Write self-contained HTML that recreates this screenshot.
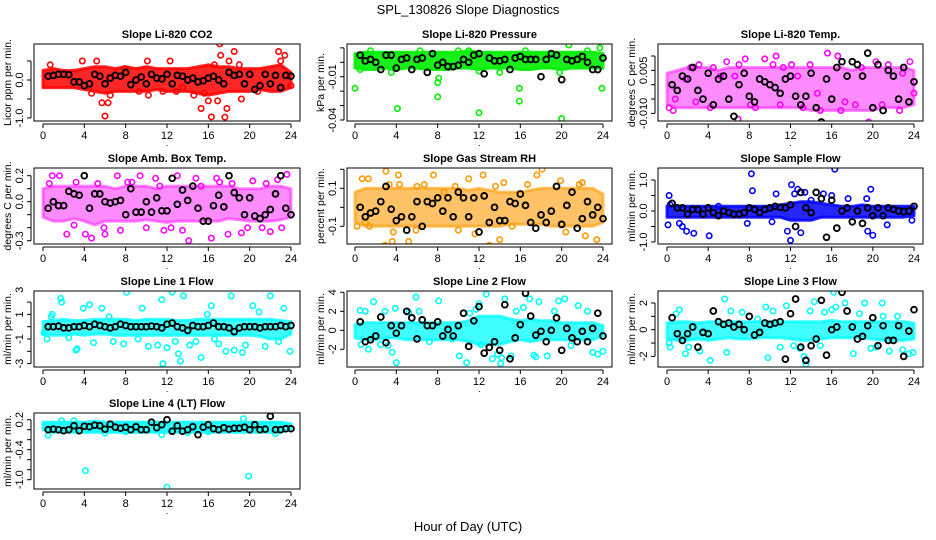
<!DOCTYPE html>
<html><head><meta charset="utf-8"><style>
html,body{margin:0;padding:0;background:#fff}
svg{display:block;font-family:"Liberation Sans",Arial,sans-serif}
</style></head><body>
<svg id="chart" width="936" height="540" viewBox="0 0 936 540" xmlns="http://www.w3.org/2000/svg">
<text x="468" y="14" text-anchor="middle" font-size="13">SPL_130826  Slope Diagnostics</text>
<text x="468" y="531" text-anchor="middle" font-size="13">Hour of Day (UTC)</text>
</svg>
<script>
const HALF=[0.5,1,1.5,2,2.5,3,3.5,4,4.5,5,5.5,6,6.5,7,7.5,8,8.5,9,9.5,10,10.5,11,11.5,12,12.5,13,13.5,14,14.5,15,15.5,16,16.5,17,17.5,18,18.5,19,19.5,20,20.5,21,21.5,22,22.5,23,23.5,24];
const HOURS=[0,1,2,3,4,5,6,7,8,9,10,11,12,13,14,15,16,17,18,19,20,21,22,23,24];
const XTICKS=[0,4,8,12,16,20,24];

const p1Lo=[-0.2,-0.2,-0.2,-0.2,-0.25,-0.3,-0.35,-0.3,-0.3,-0.3,-0.3,-0.25,-0.3,-0.3,-0.3,-0.35,-0.4,-0.35,-0.3,-0.3,-0.3,-0.25,-0.3,-0.3,-0.2];
const p1Hi=[0.25,0.3,0.25,0.25,0.3,0.35,0.35,0.3,0.35,0.3,0.35,0.3,0.3,0.3,0.3,0.35,0.4,0.35,0.35,0.3,0.3,0.3,0.35,0.4,0.2];
const p1CH=[0.7,3.8,5.2,5.7,6.0,6.3,6.5,4.7,7.9,10.1,10.2,12.3,13.5,14.6,15.3,15.6,16.0,16.3,16.6,16.9,17.1,17.2,17.6,17.8,18.0,18.5,19.2,22.8,23.0,23.4,24,9.3,11.6,20.8,19.0,12.9];
const p1CV=[0.4,0.5,0.5,-0.6,-0.95,-0.6,-0.4,-0.35,0.3,0.5,-0.4,0.5,-0.2,-0.4,-0.75,-0.35,-0.55,-0.97,0.4,-0.55,0.95,0.65,-0.98,-0.75,0.5,0.75,-0.5,0.75,0.5,0.65,-0.15,-0.3,-0.3,-0.3,0.4,-0.3];
const p1K=[0.1,0.12,0.15,0.15,0.14,-0.05,-0.05,-0.15,-0.1,0.15,0.1,-0.1,0.05,0.12,0.1,0.2,-0.12,0.0,0.08,-0.1,0.15,0.05,0.03,0.15,-0.1,0.12,0.1,0.0,0.05,-0.05,-0.02,0.05,0.1,0.0,-0.1,0.2,0.12,0.15,-0.1,0.15,-0.25,-0.15,0.15,-0.1,0.12,-0.2,0.12,0.1];

const p2Lo=[-0.004,-0.005,-0.005,-0.004,-0.005,-0.004,-0.004,-0.005,-0.005,-0.005,-0.004,-0.004,-0.005,-0.004,-0.004,-0.004,-0.005,-0.005,-0.004,-0.004,-0.005,-0.004,-0.004,-0.004,-0.004];
const p2Hi=[0.006,0.007,0.007,0.007,0.007,0.007,0.007,0.007,0.007,0.007,0.007,0.008,0.007,0.007,0.007,0.007,0.007,0.007,0.007,0.007,0.007,0.007,0.007,0.007,0.006];
const p2CH=[0,4.1,8,8,12,15.9,15.9,20,23.9,20.7,23.7,0.4,11,16.5,3.5,0.5,8.1,12,6.3,14,19.8,1.5,22.5,10];
const p2CV=[-0.018,-0.032,-0.024,-0.014,-0.035,-0.018,-0.027,-0.039,-0.018,0.012,0.01,0.005,0.008,0.008,-0.007,-0.005,-0.011,-0.006,0.008,-0.007,-0.007,0.008,0.008,0.008];
const p2K=[0.005,0.001,0.002,0.0,-0.005,0.005,0.005,-0.004,0.002,0.003,-0.005,0.002,0.003,-0.007,0.006,-0.002,0.0,-0.003,-0.003,-0.002,0.002,0.0,0.005,0.006,-0.008,0.003,0.001,0.001,0.002,-0.005,0.003,0.004,0.002,0.002,0.002,-0.01,0.002,0.006,0.005,-0.012,0.002,0.001,0.002,0.004,0.0,-0.005,-0.005,0.003];

const p3Lo=[-0.007,-0.008,-0.008,-0.008,-0.008,-0.008,-0.008,-0.008,-0.008,-0.008,-0.008,-0.008,-0.008,-0.008,-0.009,-0.009,-0.009,-0.009,-0.009,-0.009,-0.009,-0.008,-0.008,-0.008,-0.007];
const p3Hi=[0.004,0.005,0.006,0.006,0.006,0.005,0.006,0.006,0.006,0.006,0.006,0.006,0.006,0.006,0.006,0.006,0.006,0.006,0.005,0.006,0.006,0.006,0.006,0.006,0.005];
const p3CH=[0.2,0.6,1.8,2.3,3.1,4.5,5.2,5.8,6.9,7.6,8.1,9.5,10.3,10.6,11.3,12.1,13.2,13.9,14.6,15.6,16.6,17.3,18.3,19.6,20.3,21.5,22.6,23.6,0.8,2.8,4.2,6.6,8.6,11.0,12.7,14.9,16.9,18.9,20.9,22.9,24,7.0];
const p3CV=[-0.008,-0.009,0.002,0.006,0.007,0.006,0.003,0.008,-0.012,0.009,-0.007,0.009,0.007,0.01,0.006,0.007,-0.008,0.007,-0.003,0.011,0.01,-0.006,-0.007,-0.013,0.008,0.007,-0.009,0.008,-0.005,-0.006,-0.008,0.003,-0.008,-0.007,0.003,-0.009,-0.009,0.006,-0.007,0.004,-0.003,0.007];
const p3K=[0.0,-0.002,0.003,0.002,0.006,-0.002,-0.005,0.004,-0.007,0.002,0.003,-0.005,-0.011,0.0,0.004,-0.004,-0.006,0.002,0.001,0.0,-0.001,-0.003,0.002,0.003,-0.004,-0.007,-0.004,0.004,-0.008,-0.013,0.002,-0.005,0.006,0.008,0.003,0.008,0.007,0.003,0.011,-0.008,0.007,-0.009,0.005,0.003,-0.005,0.006,-0.006,0.001];

const p4Lo=[-0.12,-0.15,-0.15,-0.13,-0.15,-0.18,-0.15,-0.15,-0.15,-0.15,-0.14,-0.15,-0.16,-0.15,-0.15,-0.15,-0.15,-0.15,-0.13,-0.14,-0.15,-0.15,-0.15,-0.14,-0.12];
const p4Hi=[0.1,0.12,0.12,0.12,0.12,0.12,0.12,0.1,0.12,0.12,0.12,0.1,0.12,0.12,0.12,0.12,0.12,0.12,0.12,0.1,0.1,0.1,0.12,0.12,0.1];
const p4CH=[0.9,1.6,2.3,3.2,4.1,4.7,5.3,6.0,7.2,7.5,8.6,9.4,10.0,10.9,11.7,12.4,13.0,14.1,14.8,15.3,16.3,17.1,17.9,18.3,19.2,20.3,21.2,22.0,22.7,23.6,0.6,3.0,5.9,8.2,11.3,13.5,16.8,19.8,21.6,23.1];
const p4CV=[0.2,0.2,-0.25,0.15,-0.25,-0.28,0.14,-0.25,0.2,-0.22,0.15,0.2,-0.2,0.18,-0.22,-0.2,0.2,-0.3,0.18,0.12,-0.28,0.15,-0.25,0.14,-0.24,0.16,-0.2,-0.23,0.17,0.21,0.14,-0.18,-0.2,0.15,0.12,-0.22,0.18,-0.2,0.14,-0.2];
const p4K=[-0.05,0.0,-0.03,-0.03,0.08,0.06,0.05,0.2,-0.05,0.06,0.06,0.0,-0.01,0.0,0.01,-0.1,0.1,-0.08,-0.08,0.0,-0.08,0.03,-0.07,-0.07,0.18,-0.02,0.09,0.01,0.12,-0.05,-0.15,-0.15,-0.03,0.05,-0.04,0.2,0.07,0.03,-0.1,0.03,-0.11,-0.13,-0.1,-0.06,0.06,0.2,-0.05,-0.1];

const p5Lo=[-0.08,-0.1,-0.1,-0.1,-0.1,-0.1,-0.1,-0.1,-0.1,-0.1,-0.1,-0.1,-0.1,-0.1,-0.1,-0.09,-0.09,-0.09,-0.09,-0.1,-0.1,-0.1,-0.1,-0.1,-0.08];
const p5Hi=[0.08,0.1,0.1,0.1,0.1,0.1,0.1,0.1,0.1,0.1,0.1,0.09,0.1,0.09,0.08,0.08,0.08,0.09,0.1,0.1,0.1,0.1,0.1,0.1,0.07];
const p5CH=[0.7,1.3,1.4,2.9,3.0,3.3,3.6,4.2,4.3,5.2,6.7,7.6,8.6,10.0,11.0,11.6,12.4,13.0,13.6,14.4,15.2,17.6,18.1,19.9,20.4,21.7,22.3,23.4,1.0,3.7,5.9,9.7,14.0,16.7,22.0,6.0,0.2];
const p5CV=[0.15,0.15,-0.1,-0.2,0.19,0.12,-0.18,0.17,0.12,-0.18,0.12,0.17,0.08,-0.12,0.15,-0.14,0.17,-0.2,0.11,0.13,-0.1,0.17,0.2,0.14,-0.13,0.12,-0.15,-0.17,-0.08,-0.13,-0.12,0.11,-0.17,0.12,0.13,0.11,-0.1];
const p5K=[0.0,-0.05,-0.03,-0.02,0.03,0.11,-0.01,-0.07,-0.05,-0.12,-0.05,0.03,-0.1,0.03,0.02,0.05,-0.02,0.05,-0.05,0.08,0.05,-0.05,0.05,-0.13,0.06,-0.08,0.0,-0.07,-0.07,0.03,0.02,0.07,0.01,-0.08,-0.11,-0.04,-0.08,-0.02,0.11,-0.09,0.01,0.08,-0.11,-0.06,0.03,-0.04,0.0,-0.06];

const p6Lo=[-0.2,-0.2,-0.2,-0.2,-0.2,-0.2,-0.2,-0.2,-0.2,-0.2,-0.2,-0.2,-0.3,-0.3,-0.3,-0.2,-0.2,-0.2,-0.2,-0.2,-0.2,-0.2,-0.2,-0.2,-0.15];
const p6Hi=[0.15,0.15,0.15,0.15,0.15,0.15,0.15,0.15,0.15,0.15,0.15,0.2,0.25,0.3,0.3,0.25,0.2,0.15,0.15,0.2,0.15,0.15,0.15,0.15,0.15];
const p6CH=[0.2,0.1,1.2,1.5,1.9,2.6,5.0,8.2,8.3,7.8,10.2,10.6,11.7,12.0,12.1,12.4,12.7,13.4,14.0,15.2,16.3,16.0,17.6,19.4,19.5,20.0,19.8,21.4,23.8,0.3,4.1,13.0];
const p6CV=[0.5,-0.45,-0.4,-0.5,-0.65,-0.72,0.15,1.2,0.65,-0.4,-0.35,0.55,-0.65,-0.95,0.85,0.55,0.7,0.6,0.35,0.55,1.35,0.5,0.4,0.4,-0.65,-0.78,0.7,-0.45,-0.3,0.2,-0.8,-0.7];
const p6K=[0.25,0.1,0.1,-0.1,0.05,0.05,-0.1,0.1,-0.05,-0.15,0.0,-0.05,-0.1,-0.1,-0.05,0.1,0.05,-0.05,0.05,0.1,0.15,0.12,0.1,0.2,-0.5,0.6,0.1,-0.05,0.6,0.4,-0.85,0.35,-0.55,0.0,0.1,-0.35,0.0,-0.4,0.1,-0.15,0.1,-0.15,0.1,0.05,0.0,-0.02,0.0,0.15];

const p7Lo=[-0.6,-0.7,-0.7,-0.6,-0.7,-0.6,-0.6,-0.7,-0.7,-0.7,-0.7,-0.7,-0.7,-0.7,-0.7,-0.7,-0.7,-0.7,-0.7,-0.7,-0.7,-0.8,-1.0,-1.0,-0.6];
const p7Hi=[0.4,0.5,0.6,0.5,0.5,0.6,0.6,0.6,0.6,0.5,0.6,0.6,0.6,0.5,0.5,0.6,0.6,0.6,0.6,0.6,0.6,0.6,0.6,0.5,0.4];
const p7CH=[0.1,0.4,0.9,1.7,1.8,2.5,3.3,3.9,4.5,4.9,5.7,6.8,7.8,8.1,9.2,9.6,10.2,11.1,11.5,11.6,12.0,12.5,12.8,13.3,13.6,14.2,14.8,15.3,15.9,16.3,17.0,17.7,18.2,18.5,19.3,20.3,20.9,21.5,22.0,22.8,23.3,23.9,0.8,3.2,6.4,13.1,16.6,19.6];
const p7CV=[-0.5,-1.0,1.0,2.3,2.0,-0.9,-1.8,1.5,1.8,-1.3,1.5,-1.2,-1.4,2.8,-1.0,1.5,-1.6,-1.5,2.2,-3.0,-1.7,2.8,-1.2,-2.8,2.5,-1.5,-1.2,-2.5,1.0,1.7,-1.4,-2.0,2.5,-1.9,-2.1,1.7,1.2,-1.6,2.5,-1.2,1.5,-2.0,0.8,-1.9,0.8,-2.2,-1.0,-1.5];
const p7K=[0.0,0.0,0.05,-0.1,-0.1,0.0,0.0,0.1,0.0,0.2,0.1,0.0,-0.1,0.0,0.2,0.1,0.0,0.0,0.0,0.0,0.05,0.0,-0.1,0.2,0.3,0.0,-0.1,-0.3,0.1,0.0,0.0,0.1,0.3,0.0,0.0,-0.1,-0.4,-0.1,0.0,0.0,0.0,-0.1,0.0,0.0,0.0,0.1,0.0,0.1];

const p8Lo=[-0.8,-1.0,-1.0,-0.8,-0.8,-1.0,-1.0,-1.0,-1.0,-1.0,-1.0,-1.2,-1.5,-1.5,-1.5,-1.2,-1.0,-1.2,-1.0,-1.0,-1.0,-1.0,-1.0,-1.0,-0.6];
const p8Hi=[0.6,0.8,0.8,0.8,0.8,0.8,0.8,0.8,0.8,0.8,0.8,1.0,1.5,1.5,1.5,1.2,1.0,1.2,1.0,1.0,0.8,0.8,0.8,0.8,0.5];
const p8CH=[0.5,0.6,1.0,1.3,1.8,2.5,2.9,3.2,3.6,4.0,5.2,5.9,6.2,7.2,8.1,9.4,10.1,10.8,11.1,11.7,12.2,12.7,13.3,13.8,14.1,14.5,15.1,15.6,16.3,16.9,17.5,17.8,18.6,19.3,19.7,20.3,20.9,21.6,22.5,23.0,23.5,24.0,3.9,14.2,12.0,17.3];
const p8CV=[2.1,-1.5,2.0,-2.0,3.0,-1.5,2.0,-1.6,-2.3,-3.4,1.9,3.5,2.0,-1.2,3.1,-0.9,-2.7,-3.4,1.8,2.2,-1.5,3.8,-3.0,-2.5,-3.5,3.3,-2.7,2.0,2.4,3.3,-2.8,3.0,-2.7,2.0,3.1,3.3,-1.6,2.6,2.0,-2.3,-2.5,-2.2,2.3,-2.9,2.8,-2.6];
const p8K=[0.9,-1.2,-1.0,-0.6,1.4,-1.3,0.5,-0.3,0.5,2.0,1.3,-0.9,1.1,0.5,0.5,0.9,-0.6,0.1,-0.6,0.5,1.8,-1.7,1.0,2.5,-2.4,-1.8,-1.2,-2.1,2.7,-3.0,-0.8,0.6,3.9,1.5,-0.5,-0.1,-1.2,0.0,1.3,-2.1,0.2,-0.8,-1.2,-0.1,-1.2,0.2,1.8,-0.6];

const p9Lo=[-0.7,-0.8,-0.8,-0.7,-0.8,-0.7,-0.6,-0.7,-0.7,-0.6,-0.6,-0.6,-0.7,-0.8,-0.8,-0.7,-0.6,-0.6,-0.6,-0.6,-0.7,-0.8,-0.8,-0.8,-0.7];
const p9Hi=[0.5,0.6,0.6,0.5,0.6,0.6,0.6,0.6,0.6,0.6,0.6,0.6,0.6,0.6,0.6,0.6,0.7,0.6,0.6,0.6,0.6,0.6,0.6,0.6,0.5];
const p9CH=[0.2,0.3,0.9,1.2,1.8,2.1,3.2,4.2,5.8,6.2,7.3,8.8,9.8,10.3,11.0,11.6,12.3,12.9,13.5,13.9,14.3,14.9,15.3,16.0,16.2,17.3,18.1,18.7,19.2,20.3,20.9,21.6,22.4,22.9,23.5,23.9,5.6,9.6,13.3,16.4,19.8,21.0];
const p9CV=[-1.0,-1.3,1.2,1.5,-1.8,-1.3,-1.6,-2.3,-1.7,1.4,1.3,0.8,-2.1,1.4,-1.3,1.8,-1.2,-1.4,-2.6,1.4,2.1,-1.2,1.3,1.5,2.8,2.0,-1.8,1.2,2.0,-1.3,2.0,-1.6,1.0,-1.5,-1.8,-1.7,2.3,1.7,-2.0,1.7,-1.4,1.0];
const p9K=[0.9,-0.3,-0.8,-0.3,0.2,-1.3,-0.2,-0.3,1.4,0.6,0.4,0.5,0.2,0.4,0.0,1.0,-0.4,-0.2,0.5,0.4,0.5,0.6,-2.2,1.2,2.3,-1.3,-2.3,-1.2,-0.7,2.2,-1.9,0.0,0.2,2.8,1.4,0.2,-0.7,-0.5,0.3,0.9,-1.2,0.3,-0.8,-0.8,0.3,-2.0,-0.1,1.5];

const p10Lo=[0.0,-0.05,-0.05,-0.05,-0.05,-0.05,-0.05,-0.05,-0.05,-0.05,-0.05,-0.05,-0.05,-0.05,-0.05,-0.05,-0.05,-0.05,-0.05,-0.05,-0.05,-0.05,-0.05,-0.05,0.0];
const p10Hi=[0.15,0.15,0.15,0.15,0.15,0.17,0.15,0.15,0.15,0.15,0.15,0.15,0.15,0.15,0.15,0.15,0.15,0.15,0.15,0.15,0.15,0.15,0.15,0.15,0.12];
const p10CH=[0.5,4.1,12.0,19.9,11.5,16.0,22.5,8.0,19.4,1.8,6.0,14.0,3.0];
const p10CV=[-0.11,-0.82,-1.15,-0.93,-0.1,-0.04,-0.08,-0.04,0.22,0.18,-0.07,-0.06,0.18];
const p10K=[0.0,0.01,0.0,-0.02,0.0,0.08,-0.02,0.07,0.06,0.09,0.08,0.01,0.11,0.05,0.03,0.05,0.0,0.06,0.0,0.0,0.15,0.04,0.1,0.2,-0.03,0.08,-0.03,0.0,0.06,-0.1,0.05,0.1,0.02,0.0,0.04,0.01,0.03,0.03,0.05,0.0,0.1,0.0,0.01,0.27,0.0,0.0,0.02,0.02];

const NS='http://www.w3.org/2000/svg';
const svg=document.getElementById('chart');
function mk(tag,attrs,parent){const e=document.createElementNS(NS,tag);for(const k in attrs)e.setAttribute(k,attrs[k]);(parent||svg).appendChild(e);return e;}

const COLS=[{bx0:34,bx1:300,h0:43,h24:291},{bx0:347,bx1:612,h0:355,h24:603},{bx0:658,bx1:923,h0:667,h24:914}];
const ROWS=[{by0:44,by1:121},{by0:168,by1:244},{by0:291,by1:367},{by0:413,by1:489}];

const panels=[
 {t:'Slope Li-820 CO2',yl:'Licor ppm per min.',c:0,r:0,col:'#ff0000',bandOp:0.85,v0:0,p0:80,v1:-1,p1:118,ticks:[-1,-0.5,0,0.5],labs:[[-1,'-1.0'],[0,'0.0']],lo:p1Lo,hi:p1Hi,ch:p1CH,cv:p1CV,k:p1K},
 {t:'Slope Li-820 Pressure',yl:'kPa per min.',c:1,r:0,col:'#00ee00',bandOp:0.9,v0:0,p0:62.3,v1:-0.04,p1:120,ticks:[0.01,0,-0.01,-0.02,-0.03,-0.04],labs:[[-0.01,'-0.01'],[-0.04,'-0.04']],lo:p2Lo,hi:p2Hi,ch:p2CH,cv:p2CV,k:p2K},
 {t:'Slope Li-820 Temp.',yl:'degrees C per min.',c:2,r:0,col:'#ff00ff',bandOp:0.45,v0:0,p0:84.7,v1:0.01,p1:56,ticks:[0.01,0.005,0,-0.005,-0.01],labs:[[0.005,'0.005'],[-0.01,'-0.010']],lo:p3Lo,hi:p3Hi,ch:p3CH,cv:p3CV,k:p3K},
 {t:'Slope Amb. Box Temp.',yl:'degrees C per min.',c:0,r:1,col:'#ff00ff',bandOp:0.45,v0:0,p0:201.7,v1:0.2,p1:175.7,ticks:[0.2,0.1,0,-0.1,-0.2,-0.3],labs:[[0.2,'0.2'],[0,'0.0'],[-0.3,'-0.3']],lo:p4Lo,hi:p4Hi,ch:p4CH,cv:p4CV,k:p4K},
 {t:'Slope Gas Stream RH',yl:'percent per min.',c:1,r:1,col:'#ff9900',bandOp:0.6,v0:0,p0:207.3,v1:0.1,p1:188.3,ticks:[0.2,0.1,0,-0.1,-0.2],labs:[[0.1,'0.1'],[-0.1,'-0.1']],lo:p5Lo,hi:p5Hi,ch:p5CH,cv:p5CV,k:p5K},
 {t:'Slope Sample Flow',yl:'ml/min per min.',c:2,r:1,col:'#0000ff',bandOp:0.85,v0:0,p0:211,v1:1,p1:180,ticks:[1,0.5,0,-0.5,-1],labs:[[1,'1.0'],[0,'0.0'],[-1,'-1.0']],lo:p6Lo,hi:p6Hi,ch:p6CH,cv:p6CV,k:p6K},
 {t:'Slope Line 1 Flow',yl:'ml/min per min.',c:0,r:2,col:'#00ffff',bandOp:0.75,v0:0,p0:326.7,v1:1,p1:314.4,ticks:[3,2,1,0,-1,-2,-3],labs:[[3,'3'],[1,'1'],[-1,'-1'],[-3,'-3']],lo:p7Lo,hi:p7Hi,ch:p7CH,cv:p7CV,k:p7K},
 {t:'Slope Line 2 Flow',yl:'ml/min per min.',c:1,r:2,col:'#00ffff',bandOp:0.75,v0:0,p0:330.3,v1:2,p1:311.3,ticks:[4,2,0,-2],labs:[[4,'4'],[2,'2'],[0,'0'],[-2,'-2']],lo:p8Lo,hi:p8Hi,ch:p8CH,cv:p8CV,k:p8K},
 {t:'Slope Line 3 Flow',yl:'ml/min per min.',c:2,r:2,col:'#00ffff',bandOp:0.75,v0:0,p0:329.7,v1:2,p1:303,ticks:[2,1,0,-1,-2],labs:[[2,'2'],[0,'0'],[-2,'-2']],lo:p9Lo,hi:p9Hi,ch:p9CH,cv:p9CV,k:p9K},
 {t:'Slope Line 4 (LT) Flow',yl:'ml/min per min.',c:0,r:3,col:'#00ffff',bandOp:0.85,v0:0,p0:429.7,v1:0.2,p1:419.7,ticks:[0.2,0,-0.2,-0.4,-0.6,-0.8,-1.0],labs:[[0.2,'0.2'],[-0.4,'-0.4'],[-1.0,'-1.0']],lo:p10Lo,hi:p10Hi,ch:p10CH,cv:p10CV,k:p10K}
];

panels.forEach((p,pi)=>{
  const C=COLS[p.c],R=ROWS[p.r];
  const xs=h=>C.h0+(C.h24-C.h0)*h/24;
  const ys=v=>p.p0+(v-p.v0)*(p.p1-p.p0)/(p.v1-p.v0);
  const g=mk('g',{});
  
  
  const clipId='clip'+pi;
  const cp=mk('clipPath',{id:clipId},g);
  mk('rect',{x:C.bx0,y:R.by0,width:C.bx1-C.bx0,height:R.by1-R.by0},cp);
  const plot=mk('g',{'clip-path':'url(#'+clipId+')'},g);
  let d='';
  HOURS.forEach((h,i)=>{d+=(i?'L':'M')+xs(h).toFixed(1)+','+ys(p.hi[i]).toFixed(1);});
  for(let i=HOURS.length-1;i>=0;i--)d+='L'+xs(HOURS[i]).toFixed(1)+','+ys(p.lo[i]).toFixed(1);
  const band=mk('path',{d:d+'Z',fill:p.col,'fill-opacity':p.bandOp,stroke:p.col,'stroke-width':3,'stroke-opacity':p.bandOp,'stroke-linejoin':'round'},plot);
  
  
  p.ch.forEach((h,i)=>{
    const c=mk('circle',{cx:xs(h).toFixed(1),cy:ys(p.cv[i]).toFixed(1),r:2.7,fill:'none',stroke:p.col,'stroke-width':1.6},plot);
    
    
  });
  p.k.forEach((v,i)=>{
    if(i>=HALF.length)return;
    const c=mk('circle',{cx:xs(HALF[i]).toFixed(1),cy:ys(v).toFixed(1),r:2.9,fill:'none',stroke:'#000','stroke-width':1.9},plot);
    
    
  });
  const box=mk('rect',{x:C.bx0,y:R.by0,width:C.bx1-C.bx0,height:R.by1-R.by0,fill:'none',stroke:'#000','stroke-width':1},g);
  
  
  const tt=mk('text',{x:(C.bx0+C.bx1)/2,y:R.by0-6,'text-anchor':'middle','font-size':11,'font-weight':'bold'},g);
  tt.textContent=p.t;
  
  
  const xa=mk('g',{},g);
  
  
  const ay=R.by1+3;
  mk('line',{x1:xs(XTICKS[0]),x2:xs(XTICKS[XTICKS.length-1]),y1:ay,y2:ay,stroke:'#000'},xa);
  XTICKS.forEach(h=>{
    mk('line',{x1:xs(h),x2:xs(h),y1:ay,y2:ay+4,stroke:'#000'},xa);
    const tl=mk('text',{x:xs(h),y:ay+15,'text-anchor':'middle','font-size':11},xa);
    tl.textContent=String(h);
    
    
  });
  const dot=mk('text',{x:(C.bx0+C.bx1)/2,y:ay+22,'text-anchor':'middle','font-size':9},xa);
  dot.textContent='.';
  const ya=mk('g',{},g);
  
  
  const ax=C.bx0-3;
  const tps=p.ticks.map(ys).filter(y=>y>=R.by0-1&&y<=R.by1+1);
  mk('line',{x1:ax,x2:ax,y1:Math.min(...tps),y2:Math.max(...tps),stroke:'#000'},ya);
  p.ticks.forEach(v=>{const y=ys(v);if(y<R.by0-1||y>R.by1+1)return;mk('line',{x1:ax-4,x2:ax,y1:y,y2:y,stroke:'#000'},ya);});
  p.labs.forEach(([v,s])=>{
    const y=ys(v);const lx=ax-8;
    const tl=mk('text',{x:lx,y:y,'text-anchor':'middle','font-size':11,transform:'rotate(-90 '+lx+' '+y+')'},ya);
    tl.textContent=s;
    
    
  });
  const yx=C.bx0-23,yy=(R.by0+R.by1)/2;
  const yt=mk('text',{x:yx,y:yy,'text-anchor':'middle','font-size':10.5,transform:'rotate(-90 '+yx+' '+yy+')'},ya);
  yt.textContent=p.yl;
  
  
});
</script>
</body></html>
